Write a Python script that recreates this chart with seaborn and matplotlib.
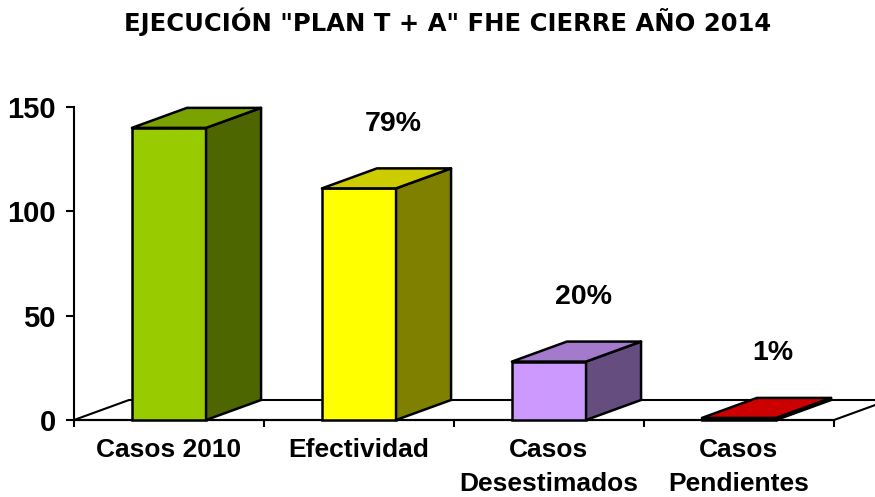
import matplotlib
matplotlib.use("Agg")
import matplotlib.pyplot as plt
from matplotlib.patches import Polygon
import seaborn as sns
import pandas as pd
import numpy as np

# ---- data ----
categories = ["Casos 2010", "Efectividad", "Casos\nDesestimados", "Casos\nPendientes"]
values = [140, 111, 28, 1]
pct_labels = ["", "79%", "20%", "1%"]
yticks = [0, 50, 100, 150]
title = 'EJECUCIÓN "PLAN T + A" FHE CIERRE AÑO 2014'

front_colors = ["#99CC00", "#FFFF00", "#CC99FF", "#FF0000"]

sns.set_theme(style="white")
plt.rcParams["font.family"] = ["Liberation Sans", "DejaVu Sans"]
plt.rcParams["font.weight"] = "bold"
plt.rcParams["text.color"] = "black"
plt.rcParams["xtick.color"] = "black"
plt.rcParams["ytick.color"] = "black"
plt.rcParams["xtick.labelcolor"] = "black"
plt.rcParams["ytick.labelcolor"] = "black"

W, H = 875, 497
fig = plt.figure(figsize=(W / 100, H / 100), dpi=100)
ax = fig.add_axes([74 / W, 77 / H, 760 / W, 313 / H])

df = pd.DataFrame({"cat": categories, "val": values})
sns.barplot(data=df, x="cat", y="val", hue="cat", palette=front_colors,
            width=0.39, edgecolor="black", linewidth=1.8, legend=False,
            saturation=1, ax=ax, zorder=3)

ax.set_xlim(-0.5, 3.5)
ax.set_ylim(0, 150)

DX = 55 / 190.0       # depth in category units
DY = 20 / (313 / 150)  # depth in value units

def shade(c, f):
    r, g, b = matplotlib.colors.to_rgb(c)
    return (r * f, g * f, b * f)

# floor
floor = Polygon([(-0.5, 0), (-0.5 + DX, DY), (3.5 + DX, DY), (3.5, 0)],
                closed=True, facecolor="white", edgecolor="black", lw=1.5,
                zorder=1, clip_on=False)
ax.add_patch(floor)

for p, c in zip(ax.patches[:len(values)], front_colors):
    x, w, h = p.get_x(), p.get_width(), p.get_height()
    p.set_clip_on(False)
    side = Polygon([(x + w, 0), (x + w + DX, DY), (x + w + DX, h + DY), (x + w, h)],
                   closed=True, facecolor=shade(c, 0.5), edgecolor="black",
                   lw=1.8, zorder=3, clip_on=False, joinstyle="round")
    top = Polygon([(x, h), (x + DX, h + DY), (x + w + DX, h + DY), (x + w, h)],
                  closed=True, facecolor=shade(c, 0.8), edgecolor="black",
                  lw=1.8, zorder=3, clip_on=False, joinstyle="round")
    ax.add_patch(side)
    ax.add_patch(top)

for i, (v, lab) in enumerate(zip(values, pct_labels)):
    if lab:
        ax.annotate(lab, xy=(i + 0.18, v + DY), xytext=(0, 32),
                    textcoords="offset points", ha="center", va="center",
                    fontsize=20.5, fontweight="bold", color="black",
                    annotation_clip=False)

# axes styling
for s in ["top", "right"]:
    ax.spines[s].set_visible(False)
ax.spines["left"].set_linewidth(1.5)
ax.spines["bottom"].set_linewidth(1.5)
ax.spines["left"].set_color("black")
ax.spines["bottom"].set_color("black")

ax.set_yticks(yticks)
ax.set_yticklabels([str(t) for t in yticks], fontsize=21, fontweight="bold")
ax.tick_params(axis="y", direction="out", length=6, width=1.5, pad=7, left=True,
               color="black", labelcolor="black")

ax.set_xticks(range(len(categories)))
ax.set_xticklabels(categories, fontsize=19, fontweight="bold", linespacing=1.5)
ax.set_xticks(np.arange(-0.5, 4, 1), minor=True)
ax.tick_params(axis="x", which="major", length=0, pad=13, labelcolor="black")
ax.tick_params(axis="x", which="minor", direction="out", length=5, width=1.5,
               bottom=True, color="black")
ax.set_xlabel("")
ax.set_ylabel("")

fig.text(448 / W, 1 - 22 / H, title, ha="center", va="center", color="black",
         fontsize=17.5, fontweight="bold", family=["DejaVu Sans"])

fig.savefig("out.png", dpi=100)
